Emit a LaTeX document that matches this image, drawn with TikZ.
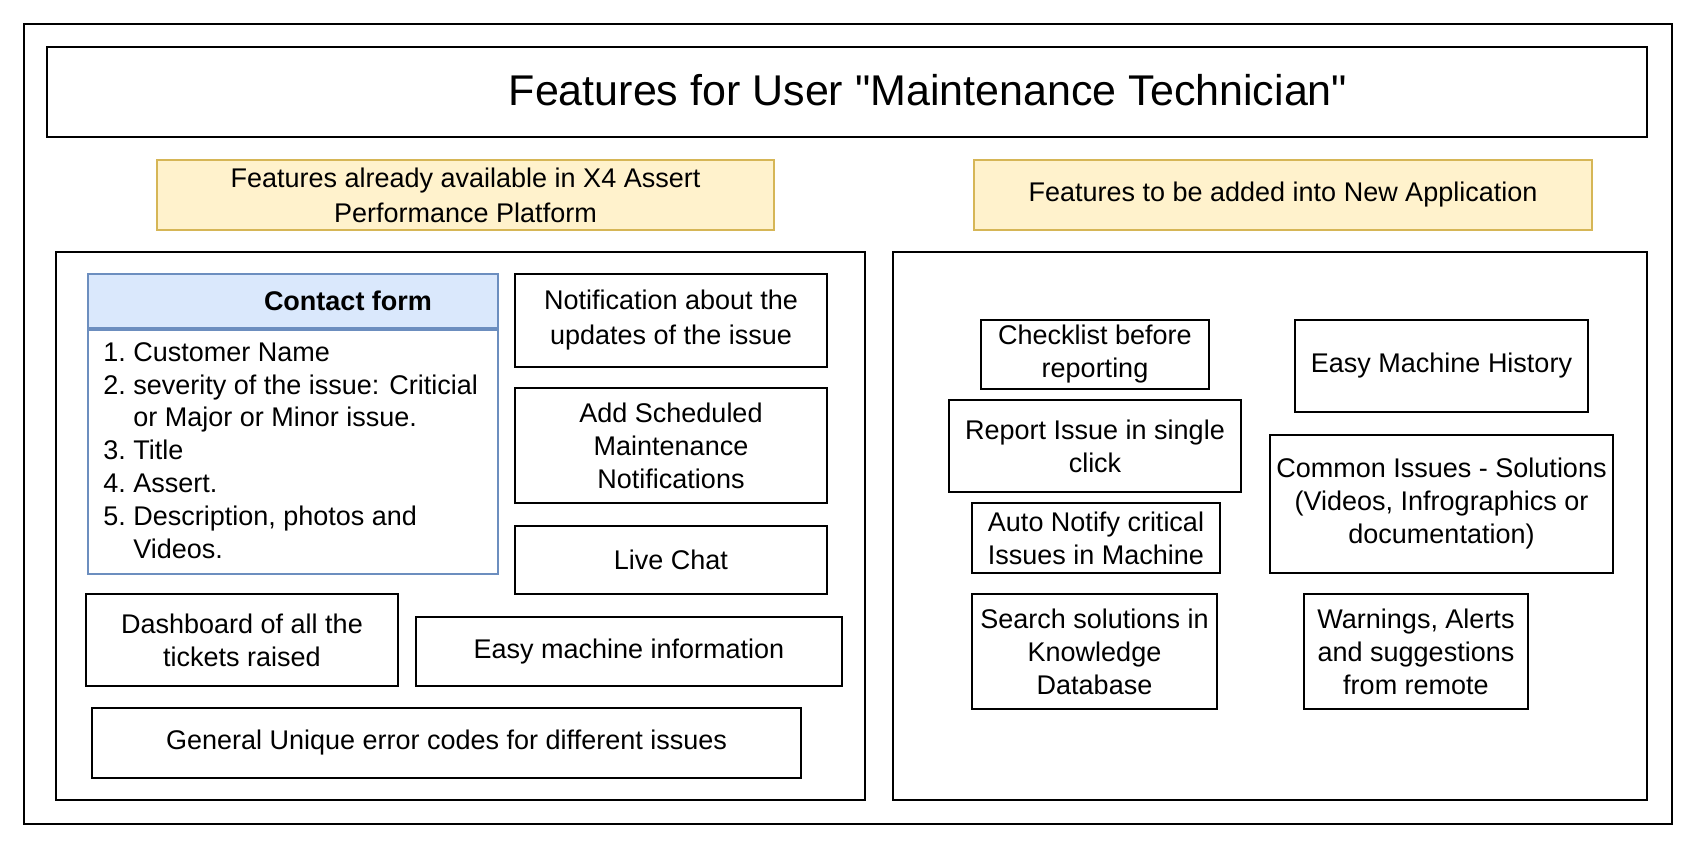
\documentclass[tikz,border=0pt]{standalone}
\usepackage{fontspec}
\setmainfont{Liberation Sans}
\newfontfamily\titlefont{Liberation Sans}

\definecolor{hdrfill}{HTML}{FFF2CC}
\definecolor{hdrline}{HTML}{D6B656}
\definecolor{formfill}{HTML}{DAE8FC}
\definecolor{formline}{HTML}{6C8EBF}

\tikzstyle{frame} = [draw, line width=1pt, inner sep=0pt]
\tikzstyle{feat} = [draw, line width=1pt, inner sep=0pt, align=center,
  font=\fontsize{13.5}{16.5}\selectfont]
\tikzstyle{hdr} = [draw=hdrline, fill=hdrfill, line width=1pt, inner sep=0pt,
  align=center, font=\fontsize{13.5}{17.5}\selectfont]

\begin{document}
\begin{tikzpicture}[x=0.5pt, y=-0.5pt]
    \useasboundingbox (0,0) rectangle (1694,847);
    \node[frame, minimum width=824pt, minimum height=400pt] (outer) at (848,424) {};
    \node[frame, minimum width=800pt, minimum height=45pt] (titlebox) at (847,92) {};
    \node[inner sep=0pt, font=\titlefont\fontsize{21.5}{26}\selectfont] (title) at (928,90)
      {Features for User "Maintenance Technician"};

    \node[hdr, minimum width=308.5pt, minimum height=35pt] (oldhdr) at (465.5,195)
      {Features already available in X4 Assert\\Performance Platform};
    \node[hdr, minimum width=309pt, minimum height=35pt] (newhdr) at (1283,195)
      {Features to be added into New Application};

    \node[frame, minimum width=404.5pt, minimum height=274pt] (oldpanel) at (460.5,526) {};
    \node[frame, minimum width=377pt, minimum height=274pt] (newpanel) at (1270,526) {};

    \node[draw=formline, fill=formfill, line width=1pt, minimum width=205pt,
      minimum height=27pt] (formhead) at (293,301) {};
    \node[draw=formline, line width=1pt, minimum width=205pt, minimum height=122pt,
      anchor=north] (formbody) at (formhead.south) {};
    \node[inner sep=0pt, font=\fontsize{13.5}{16.5}\selectfont\bfseries] (formtitle)
      at (348,301) {Contact form};
    \node[inner sep=0pt, anchor=north west, align=left,
      font=\fontsize{13.5}{16.4}\selectfont] (formlist) at (103,342)
      {\makebox[15pt][l]{1.}Customer Name\\
       \makebox[15pt][l]{2.}severity of the issue: Criticial\\
       \hspace*{15pt}or Major or Minor issue.\\
       \makebox[15pt][l]{3.}Title\\
       \makebox[15pt][l]{4.}Assert.\\
       \makebox[15pt][l]{5.}Description, photos and\\
       \hspace*{15pt}Videos.};

    \node[feat, minimum width=156pt, minimum height=46.5pt] (notify) at (671,320.5)
      {Notification about the\\[1pt]updates of the issue};
    \node[feat, minimum width=156pt, minimum height=57.5pt] (sched) at (671,445.5)
      {Add Scheduled\\Maintenance\\Notifications};
    \node[feat, minimum width=156pt, minimum height=34pt] (chat) at (671,560)
      {Live Chat};
    \node[feat, minimum width=156pt, minimum height=46pt] (dash) at (242,640)
      {Dashboard of all the\\tickets raised};
    \node[feat, minimum width=213pt, minimum height=34.5pt] (info) at (629,651.5)
      {Easy machine information};
    \node[feat, minimum width=354.5pt, minimum height=35pt] (codes) at (446.5,743)
      {General Unique error codes for different issues};

    \node[feat, minimum width=114pt, minimum height=34.5pt] (check) at (1095,354.5)
      {Checklist before\\reporting};
    \node[feat, minimum width=146.5pt, minimum height=46pt] (history) at (1441.5,366)
      {Easy Machine History};
    \node[feat, minimum width=146pt, minimum height=46pt] (report) at (1095,446)
      {Report Issue in single\\click};
    \node[feat, minimum width=171.5pt, minimum height=69pt] (common) at (1441.5,504)
      {Common Issues - Solutions\\(Videos, Infrographics or\\documentation)};
    \node[feat, minimum width=124pt, minimum height=35pt] (autonotify) at (1096,538)
      {Auto Notify critical\\Issues in Machine};
    \node[feat, minimum width=122.5pt, minimum height=57.5pt] (search) at (1094.5,651.5)
      {Search solutions in\\Knowledge\\Database};
    \node[feat, minimum width=112pt, minimum height=57.5pt] (warn) at (1416,651.5)
      {Warnings, Alerts\\and suggestions\\from remote};
\end{tikzpicture}
\end{document}
